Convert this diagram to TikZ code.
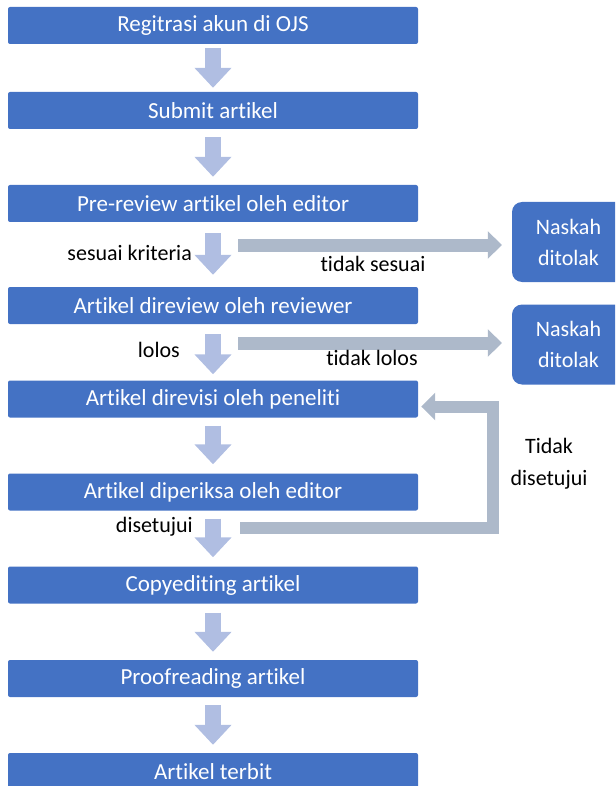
\documentclass[tikz,border=0pt]{standalone}
\usepackage{fontspec}
\setmainfont{Carlito}[Ligatures=NoCommon]
\usepackage{tikz}
\usetikzlibrary{arrows.meta,positioning}
\definecolor{boxblue}{HTML}{4472C4}
\definecolor{downblue}{HTML}{B0BEE2}
\definecolor{sidegrey}{HTML}{ADB9CA}
\tikzset{
    stage/.style={fill=boxblue, text=white, minimum width=410pt, minimum height=37pt,
        inner sep=0pt, rounded corners=2pt, font=\fontsize{23}{26}\selectfont},
    reject/.style={fill=boxblue, text=white, minimum width=113pt, minimum height=80pt,
        inner sep=0pt, rounded corners=10pt, align=center, font=\fontsize{22}{31}\selectfont},
    lbl/.style={font=\fontsize{22}{32}\selectfont, align=center, inner sep=0pt}
}

\begin{document}
\begin{tikzpicture}[x=1pt, y=-1pt,
    down/.style={color=downblue, line width=16pt, -{Triangle[length=20pt,width=36pt]}},
    side/.style={color=sidegrey, line width=13pt, line join=miter, -{Triangle[length=14pt,width=27pt]}}]
    \clip (0,0) rectangle (615,786);
    % main column
    \node[stage] at (213,25.5) (reg) {Regitrasi akun di OJS};
    \node[stage] at (213,110.5) (submit) {Submit artikel};
    \node[stage] at (213,203.5) (prerev) {Pre-review artikel oleh editor};
    \node[stage] at (213,305.5) (review) {Artikel direview oleh reviewer};
    \node[stage] at (213,399) (revisi) {Artikel direvisi oleh peneliti};
    \node[stage] at (213,492) (periksa) {Artikel diperiksa oleh editor};
    \node[stage] at (213,585) (copyed) {Copyediting artikel};
    \node[stage] at (213,678.5) (proof) {Proofreading artikel};
    \node[stage] at (213,771.5) (terbit) {Artikel terbit};
    % rejected
    \node[reject] at (568.5,242) (tolak1) {Naskah\\ditolak};
    \node[reject] at (568.5,344.5) (tolak2) {Naskah\\ditolak};
    % start points of side arrows
    \coordinate (s1) at (238,245);
    \coordinate (s2) at (238,343);
    \coordinate (s3) at (240,528);
    \coordinate (c3) at (493,528);
    \coordinate (c4) at (493,406.5);
    \path[down]
    (reg) edge [shorten <=4pt, shorten >=4pt] (submit)
    (submit) edge [shorten <=8pt, shorten >=8pt] (prerev)
    (prerev) edge [shorten <=11pt, shorten >=12pt] (review)
    (review) edge [shorten <=10pt, shorten >=6pt] (revisi)
    (revisi) edge [shorten <=8pt, shorten >=9pt] (periksa)
    (periksa) edge [shorten <=8pt, shorten >=9pt] (copyed)
    (copyed) edge [shorten <=9pt, shorten >=8pt] (proof)
    (proof) edge [shorten <=8pt, shorten >=8pt] (terbit)
    ;
    \draw[side, shorten >=10pt] (s1) -- (s1 -| tolak1.west);
    \draw[side, shorten >=10pt] (s2) -- (s2 -| tolak2.west);
    \draw[side, line width=12pt, shorten >=3pt] (s3) -- (c3) -- (c4) -- (c4 -| revisi.east);
    % labels
    \node[lbl, anchor=east] at (192,253) (lsesuai) {sesuai kriteria};
    \node[lbl] at (373,264) (ltdksesuai) {tidak sesuai};
    \node[lbl, anchor=east] at (180,350) (llolos) {lolos};
    \node[lbl] at (372,358) (ltdklolos) {tidak lolos};
    \node[lbl, anchor=east] at (193,527) (lsetuju) {disetujui};
    \node[lbl] at (549,464) (ltdksetuju) {Tidak\\disetujui};
\end{tikzpicture}
\end{document}
